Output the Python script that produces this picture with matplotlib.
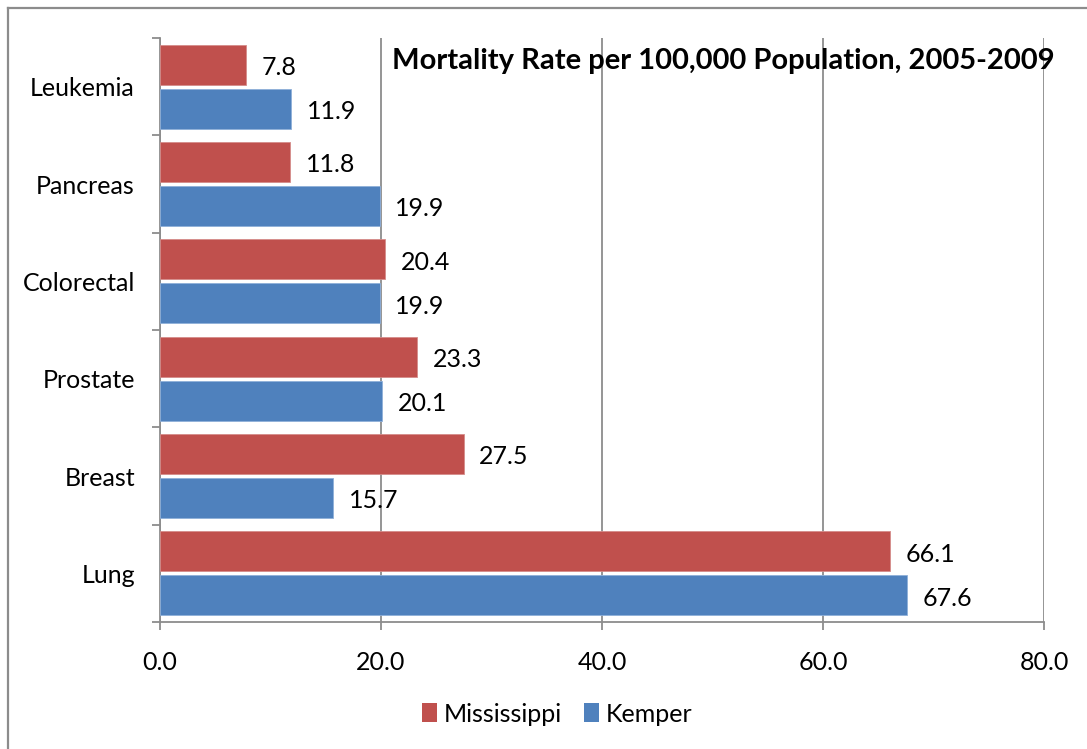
import matplotlib
matplotlib.use("Agg")
import matplotlib.pyplot as plt
import numpy as np
from matplotlib.lines import Line2D
from matplotlib.patches import Patch

# ─── Data ───────────────────────────────────────────────────
CANCERS = ["Lung", "Breast", "Prostate", "Colorectal", "Pancreas", "Leukemia"]
MISSISSIPPI = [66.1, 27.5, 23.3, 20.4, 11.8, 7.8]
KEMPER = [67.6, 15.7, 20.1, 19.9, 19.9, 11.9]
X_TICKS = [0, 20, 40, 60, 80]

RED = "#C0504D"
BLUE = "#4F81BD"
GRID = "#8C8C8C"
FS = 18

plt.rcParams["font.family"] = ["Lato", "DejaVu Sans"]

fig = plt.figure(figsize=(10.87, 7.49), dpi=100)
ax = fig.add_axes([160 / 1087, 1 - 622 / 749, 884 / 1087, 584 / 749])

y = np.arange(len(CANCERS))
h = 0.41
off = 0.226
bars_ms = ax.barh(y + off, MISSISSIPPI, height=h, color=RED,
                  edgecolor="#D58C8A", linewidth=0.6, zorder=3)
bars_km = ax.barh(y - off, KEMPER, height=h, color=BLUE,
                  edgecolor="#8FB0D9", linewidth=0.6, zorder=3)

# value labels just right of each bar end
for bars, vals in ((bars_ms, MISSISSIPPI), (bars_km, KEMPER)):
    for b, v in zip(bars, vals):
        ax.annotate(f"{v:.1f}", (v, b.get_y() + b.get_height() / 2),
                    xytext=(11, -2), textcoords="offset points",
                    va="center", ha="left", fontsize=FS, color="black")

ax.set_xlim(0, 80)
ax.set_ylim(-0.5, len(CANCERS) - 0.5)
ax.set_xticks(X_TICKS)
ax.set_xticklabels([f"{t:.1f}" for t in X_TICKS], fontsize=FS)
# tick marks sit between categories, labels at category centres
ax.set_yticks(np.arange(len(CANCERS) + 1) - 0.5)
ax.set_yticklabels([])
ax.set_yticks(y, minor=True)
ax.set_yticklabels(CANCERS, minor=True, fontsize=FS)
ax.tick_params(axis="y", which="major", length=6, color=GRID, width=1.3)
ax.tick_params(axis="y", which="minor", length=0, pad=18)
ax.tick_params(axis="x", length=6, color=GRID, width=1.3, pad=15)

ax.grid(axis="x", color=GRID, linewidth=1.3, zorder=0)
for s in ["top", "right"]:
    ax.spines[s].set_visible(False)
for s in ["left", "bottom"]:
    ax.spines[s].set_color(GRID)
    ax.spines[s].set_linewidth(1.3)

fig.text(1055 / 1087, 1 - 61 / 749, "Mortality Rate per 100,000 Population, 2005-2009",
         ha="right", va="center", fontsize=21, fontweight="bold")

handles = [Patch(facecolor=RED, edgecolor="none", label="Mississippi"),
           Patch(facecolor=BLUE, edgecolor="none", label="Kemper")]
fig.legend(handles=handles, loc="center", bbox_to_anchor=(557 / 1087, 1 - 714 / 749),
           ncol=2, frameon=False, fontsize=FS, handlelength=0.6,
           handleheight=0.8, handletextpad=0.25, columnspacing=0.9)

# outer chart frame (top and left edges)
fig.add_artist(Line2D([8 / 1087, 8 / 1087], [0, 1 - 8 / 749],
                      transform=fig.transFigure, color=GRID, linewidth=1.6))
fig.add_artist(Line2D([8 / 1087, 1], [1 - 8 / 749, 1 - 8 / 749],
                      transform=fig.transFigure, color=GRID, linewidth=1.6))

fig.savefig("out.png", dpi=100, facecolor="white")
